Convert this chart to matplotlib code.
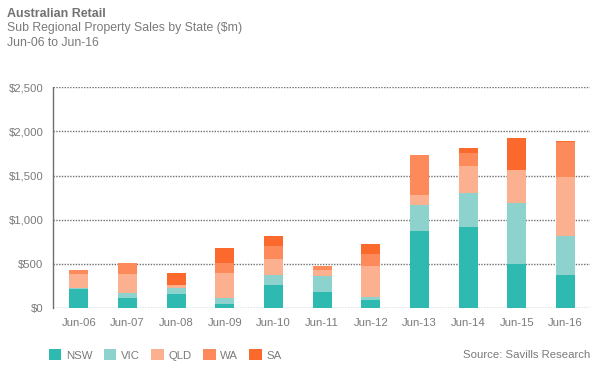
import matplotlib
matplotlib.use("Agg")
import matplotlib.pyplot as plt
import numpy as np

periods = ["Jun-06", "Jun-07", "Jun-08", "Jun-09", "Jun-10", "Jun-11",
           "Jun-12", "Jun-13", "Jun-14", "Jun-15", "Jun-16"]
nsw = [220, 114, 167, 49, 258, 186, 98, 871, 924, 496, 371]
vic = [5, 60, 68, 72, 121, 181, 35, 296, 383, 697, 451]
qld = [160, 216, 23, 281, 182, 61, 348, 113, 303, 371, 659]
wa = [43, 118, 0, 113, 147, 53, 136, 451, 144, 0, 405]
sa = [0, 0, 144, 163, 110, 0, 106, 0, 57, 364, 12]

states = ["NSW", "VIC", "QLD", "WA", "SA"]
colors = ["#2EB9B1", "#8ED2CD", "#FBB18F", "#FC8A5A", "#FB6A2C"]
grey = "#7a7a7a"

plt.rcParams["font.family"] = ["Liberation Sans", "DejaVu Sans"]

fig = plt.figure(figsize=(6.05, 3.8), dpi=100)
ax = fig.add_axes([0.0876, 0.1887, 0.8874, 0.5816])

x = np.arange(len(periods))
bottom = np.zeros(len(periods))
for name, vals, col in zip(states, [nsw, vic, qld, wa, sa], colors):
    ax.bar(x, vals, bottom=bottom, width=0.39, color=col, label=name, zorder=3)
    bottom += np.array(vals)

ax.set_xlim(-0.53, 10.5)
ax.set_ylim(0, 2500)
ax.set_yticks(np.arange(0, 2501, 500))
ax.set_yticklabels([f"${v:,}" for v in range(0, 2501, 500)])
ax.set_xticks(x)
ax.set_xticklabels(periods)
ax.tick_params(axis="both", length=0, labelsize=8.2, colors=grey)
ax.tick_params(axis="y", pad=7)
ax.tick_params(axis="x", pad=7)

ax.yaxis.grid(True, linestyle=(0, (1, 1)), color="#707070", linewidth=1.0, zorder=1)
for side in ["top", "right", "bottom"]:
    ax.spines[side].set_visible(False)
ax.spines["left"].set_linestyle((0, (1, 1)))
ax.spines["left"].set_color("#707070")
ax.spines["left"].set_linewidth(1.0)

fig.text(0.012, 0.962, "Australian Retail", fontsize=9, fontweight="bold", color="#727272", va="center")
fig.text(0.012, 0.925, "Sub Regional Property Sales by State ($m)", fontsize=8.8, color=grey, va="center")
fig.text(0.012, 0.888, "Jun-06 to Jun-16", fontsize=8.8, color=grey, va="center")

leg = fig.legend(loc="center left", bbox_to_anchor=(0.064, 0.066), ncol=5, frameon=False,
                 fontsize=8.2, handlelength=1.1, handleheight=1.1, handletextpad=0.4,
                 columnspacing=1.0, labelcolor=grey)
fig.text(0.975, 0.066, "Source: Savills Research", fontsize=8.2, color=grey, ha="right", va="center")

fig.savefig("out.png", dpi=100)
